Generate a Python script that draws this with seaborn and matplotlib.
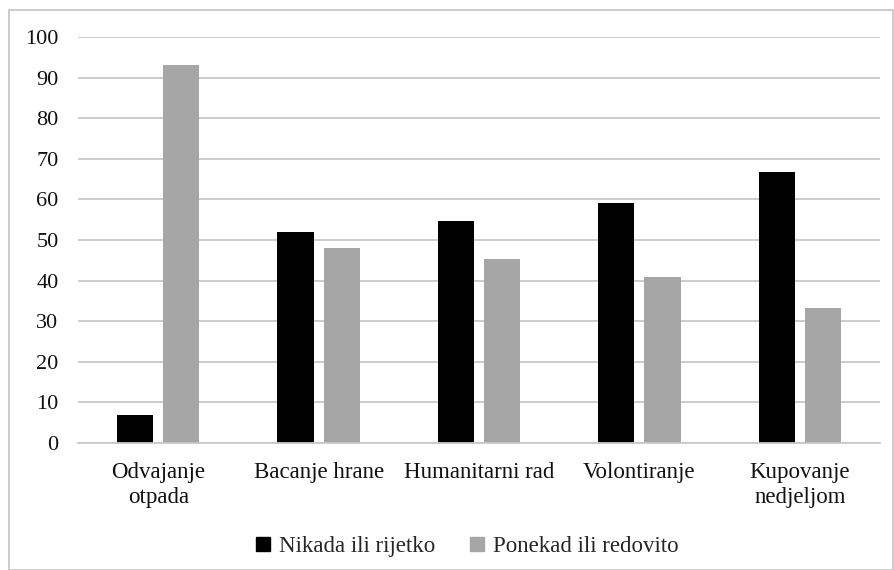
import seaborn as sns
import matplotlib.pyplot as plt
import pandas as pd
from matplotlib.patches import Rectangle
from matplotlib.lines import Line2D

# Podaci
kategorije = ["Odvajanje\notpada", "Bacanje hrane", "Humanitarni rad", "Volontiranje", "Kupovanje\nnedjeljom"]
nikada = [6.8, 52.0, 54.7, 59.2, 66.7]
ponekad = [93.2, 48.0, 45.3, 40.8, 33.3]
serije = ["Nikada ili rijetko", "Ponekad ili redovito"]
boje = ["#000000", "#a6a6a6"]

df = pd.DataFrame({
    "kategorija": kategorije * 2,
    "vrijednost": nikada + ponekad,
    "serija": [serije[0]] * len(kategorije) + [serije[1]] * len(kategorije),
})

sns.set_theme(style="white")
plt.rcParams["font.family"] = ["Liberation Serif", "DejaVu Serif"]

fig = plt.figure(figsize=(8.94, 5.70), dpi=100)
ax = fig.add_axes([78 / 894, 1 - 443 / 570, 802 / 894, 406 / 570])

sns.barplot(
    data=df, x="kategorija", y="vrijednost", hue="serija",
    palette=boje, width=0.575, gap=0.217, ax=ax, legend=False,
    edgecolor="none", saturation=1,
)

ax.set_ylim(0, 100)
ax.set_yticks(range(0, 101, 10))
ax.set_xlim(-0.5, len(kategorije) - 0.5)
ax.yaxis.grid(True, color="#c8c8c8", linewidth=1.3)
ax.set_axisbelow(True)
for s in ["top", "right", "left"]:
    ax.spines[s].set_visible(False)
ax.spines["bottom"].set_color("#c8c8c8")
ax.spines["bottom"].set_linewidth(1.3)
ax.tick_params(axis="both", length=0, labelsize=16, colors="#111111")
ax.tick_params(axis="x", pad=14, labelsize=16.5)
ax.tick_params(axis="y", pad=14)
ax.set_xlabel("")
ax.set_ylabel("")

# Legenda
ruke = [Line2D([], [], marker="s", linestyle="none", markersize=10, color=c) for c in boje]
fig.legend(ruke, serije, loc="center", bbox_to_anchor=(0.514, 1 - 546 / 570), ncol=2,
           frameon=False, fontsize=16.5, handletextpad=-0.3, columnspacing=0.8)

# Okvir
fig.patches.append(Rectangle((9 / 894, 0.5 / 570), 884 / 894, 560 / 570, transform=fig.transFigure,
                             fill=False, edgecolor="#c8c8c8", linewidth=1.3))

plt.savefig("out.png", dpi=100)
